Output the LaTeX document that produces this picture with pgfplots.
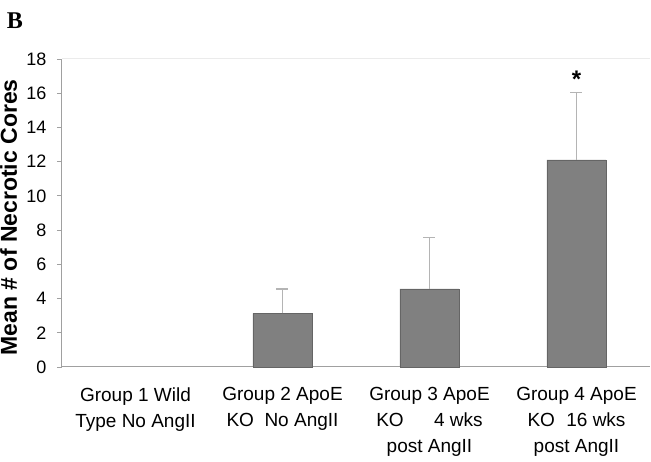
\documentclass[border=0pt]{standalone}
\usepackage{fontspec}
\setmainfont{Liberation Sans}
\newfontfamily\timesfont{Liberation Serif}
\usepackage{pgfplots}
\pgfplotsset{compat=1.18}
\definecolor{barfill}{HTML}{808080}
\definecolor{baredge}{HTML}{656565}
\definecolor{axgray}{HTML}{A0A0A0}
\definecolor{errgray}{HTML}{B4B4B4}
\begin{document}
\begin{tikzpicture}
\begin{axis}[
  scale only axis,
  width=588pt, height=308pt,
  xmin=-0.5, xmax=3.5,
  ymin=0, ymax=18,
  axis lines*=left,
  axis line style={axgray, line width=1pt},
  ytick={0,2,...,18},
  yticklabel style={font=\fontsize{18}{20}\selectfont, xshift=-7pt},
  /pgf/number format/assume math mode=true,
  xtick={0,1,2,3},
  xticklabels={{Group 1 Wild\\Type No AngII},{Group 2 ApoE\\KO\ \ No AngII},{Group 3 ApoE\\KO\hspace{1.6em}4 wks\\post AngII},{Group 4 ApoE\\KO\hspace{0.6em}16 wks\\post AngII}},
  xticklabel style={font=\fontsize{19}{26}\selectfont, align=center, yshift=-12pt},
  x tick style={draw=none},
  extra x ticks={-0.5,0.5,1.5,2.5,3.5},
  extra x tick labels={},
  extra x tick style={tick style={draw=axgray, line width=0.8pt}, major tick length=5pt, tick align=outside},
  y tick style={axgray, line width=0.8pt},
  major tick length=5pt,
  tick align=outside,
  clip=false,
]
\draw[color=black!8, line width=1pt] (rel axis cs:0,1) -- (rel axis cs:1,1);
\addplot[ybar, bar width=59pt, fill=barfill, draw=baredge, line width=0.8pt,
  error bars/.cd, y dir=plus, y explicit,
  error bar style={errgray, line width=1.3pt},
  error mark options={rotate=90, mark size=6pt, errgray, line width=1.3pt}]
  coordinates {
  (1,3.14) +- (0,1.42)
  (2,4.56) +- (0,3.00)
  (3,12.10) +- (0,3.94)
  };
\node[anchor=base, font=\fontsize{24}{24}\selectfont\bfseries, yshift=-12pt] at (axis cs:3,17.05) {*};
\node[rotate=90, anchor=base, font=\fontsize{23}{24}\selectfont\bfseries] at ([xshift=-45pt]rel axis cs:0,0.486) {Mean \# of Necrotic Cores};
\end{axis}
\node[font=\fontsize{24}{24}\selectfont\timesfont\bfseries] at (-47pt,346.5pt) {B};
\pgfresetboundingbox
\path[use as bounding box] (-62pt,-95pt) rectangle (589pt,367pt);
\end{tikzpicture}
\end{document}
